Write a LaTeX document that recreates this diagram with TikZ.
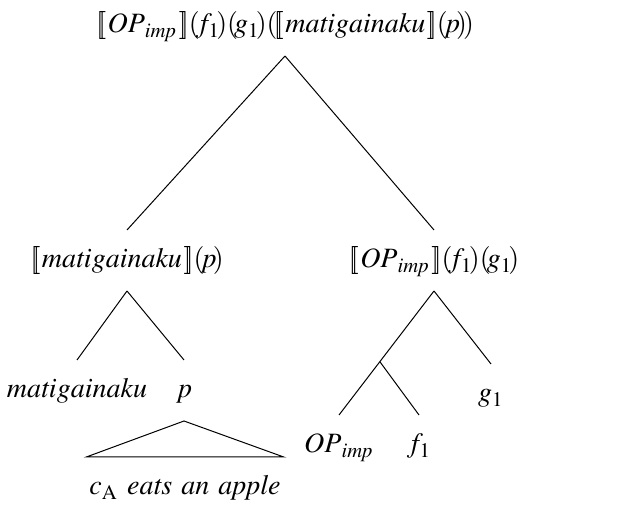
\documentclass[tikz,border=0pt]{standalone}
\usepackage{mathptmx}
\usetikzlibrary{calc}
\newcommand{\sem}[1]{\mathopen{[\mkern-3.5mu[}\mkern1mu#1\mkern1mu\mathclose{]\mkern-3.5mu]}}
\newcommand{\ap}[1]{(\mkern-2.5mu#1\mkern-2.5mu)}
\newcommand{\opimp}{\mathit{OP}_{\mathit{imp}}}

\begin{document}
\begin{tikzpicture}[
  x=0.4pt, y=-0.4pt,
  font=\fontsize{11.2}{14}\selectfont,
  term/.style={anchor=base, inner xsep=1pt, inner ysep=6pt,
               text height=9pt, text depth=3pt},
  branch/.style={line width=0.4pt}
]
\useasboundingbox (0,0) rectangle (626,510);
\node[term] (root) at (285,33)
  {$\sem{\opimp}\ap{f_1}\ap{g_1}\ap{\sem{\mathit{matigainaku}}\ap{p}}$};
\node[term] (matp) at (127,268) {$\sem{\mathit{matigainaku}}\ap{p}$};
\node[term] (opfg) at (434,268) {$\sem{\opimp}\ap{f_1}\ap{g_1}$};
\node[term] (mati) at (77,398) {$\mathit{matigainaku}$};
\node[term] (p) at (184,398) {$p$};
\node[term] (g) at (491,402) {$g_1$};
\node[term] (op) at (339,453) {$\opimp$};
\node[term] (f) at (419,453) {$f_1$};
\node[term] (prop) at (185,495)
  {$c_{\mathrm{A}}\ \mathit{eats\ an\ apple}$};
\coordinate (opf) at ($(opfg.south)!.57!(op.north)$);
\draw[branch] (root.south) -- (matp.north);
\draw[branch] (root.south) -- (opfg.north);
\draw[branch] (matp.south) -- (mati.north);
\draw[branch] (matp.south) -- (p.north);
\draw[branch] (opfg.south) -- (g.north);
\draw[branch] (opfg.south) -- (op.north);
\draw[branch] (opf) -- (f.north);
\draw[branch] (p.south) -- (prop.north west) -- (prop.north east) -- cycle;
\end{tikzpicture}
\end{document}
